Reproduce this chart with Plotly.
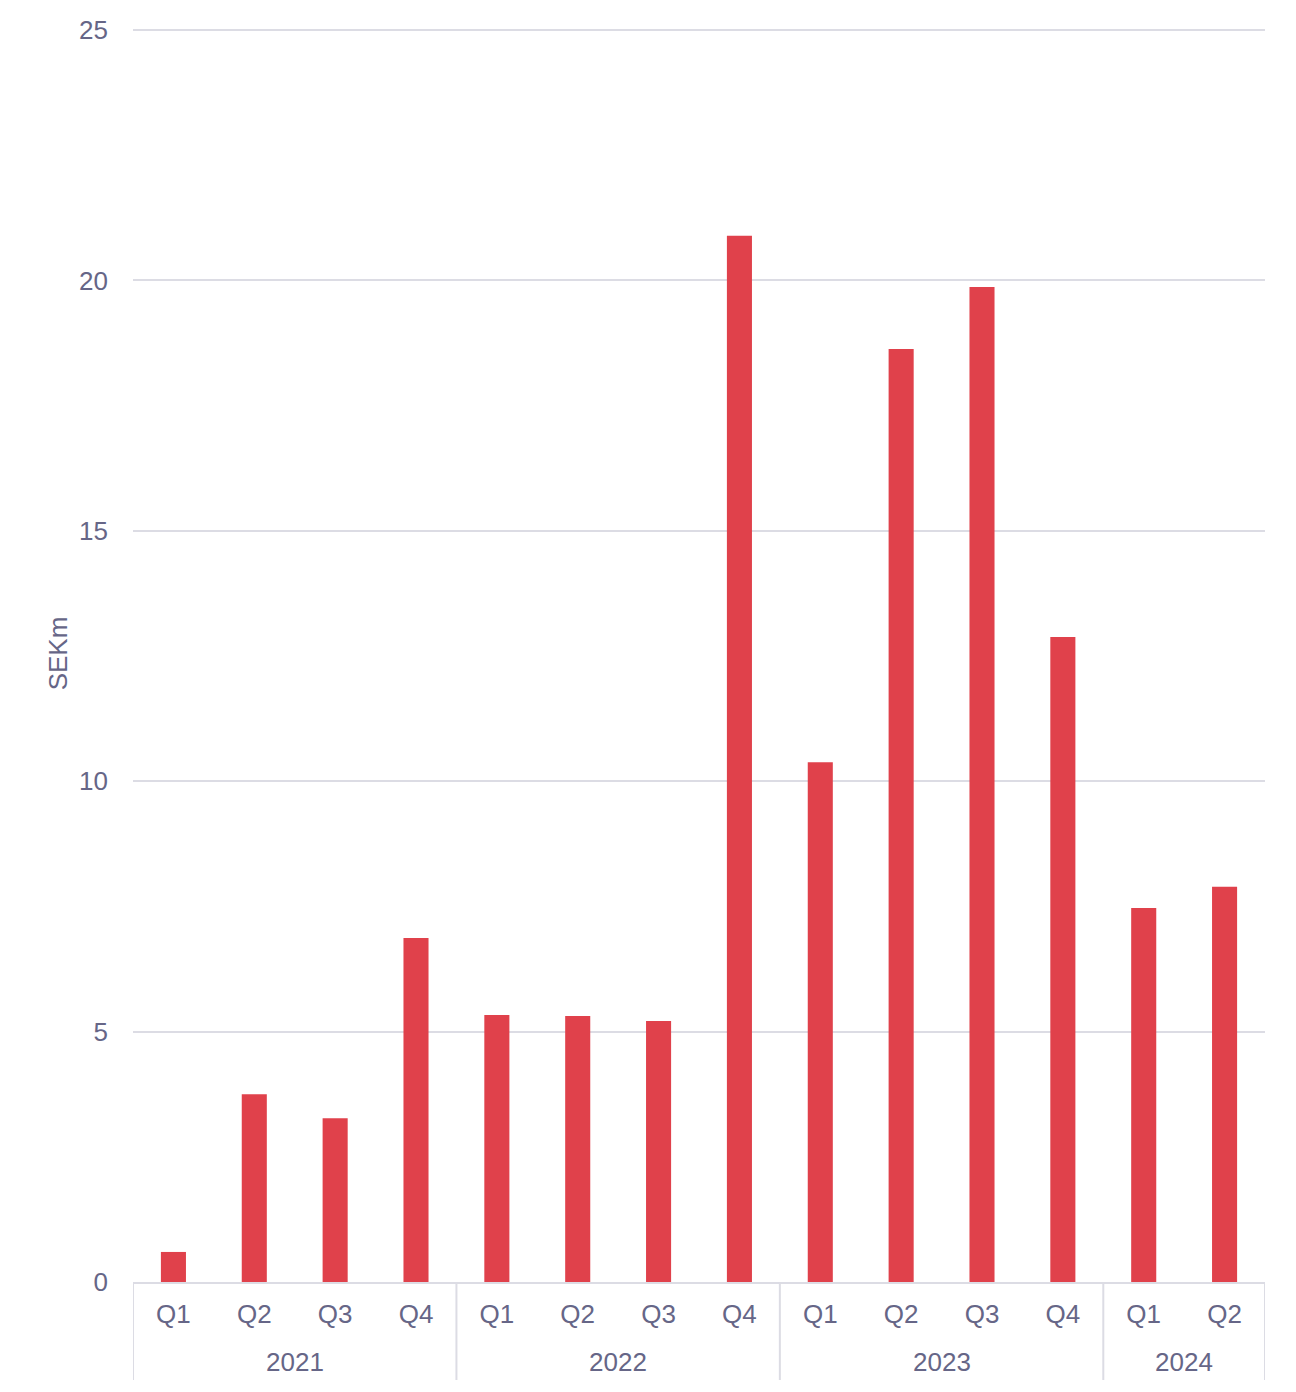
import plotly.graph_objects as go

years = ["2021"] * 4 + ["2022"] * 4 + ["2023"] * 4 + ["2024"] * 2
quarters = ["Q1", "Q2", "Q3", "Q4", "Q1", "Q2", "Q3", "Q4", "Q1", "Q2", "Q3", "Q4", "Q1", "Q2"]
values = [0.6, 3.75, 3.27, 6.87, 5.33, 5.31, 5.21, 20.89, 10.38, 18.63, 19.87, 12.88, 7.47, 7.89]
y_ticks = [0, 5, 10, 15, 20, 25]

TEXT = "#666687"
GRID = "#dcdce4"
BAR = "#e0414b"
FONT = "Liberation Sans, Arial, sans-serif"

W, H = 1296, 1392
M = dict(l=133, r=31, t=25, b=110)
plot_h = H - M["t"] - M["b"]

idx = list(range(len(values)))

fig = go.Figure(
    go.Bar(
        x=idx,
        y=values,
        marker=dict(color=BAR, line=dict(width=0)),
        customdata=[f"{q} {y}" for q, y in zip(quarters, years)],
        hovertemplate="%{customdata}: %{y}<extra></extra>",
    )
)

# group boundaries from the year labels
groups = []
start = 0
for i in range(1, len(years) + 1):
    if i == len(years) or years[i] != years[start]:
        groups.append((years[start], start, i - 1))
        start = i

div_depth = 98 / plot_h
shapes = []
annotations = []
bounds = sorted({g[1] - 0.5 for g in groups} | {g[2] + 0.5 for g in groups})
for b in bounds:
    shapes.append(dict(type="line", xref="x", yref="paper", x0=b, x1=b, y0=0, y1=-div_depth,
                       line=dict(color=GRID, width=2)))
for name, s, e in groups:
    annotations.append(dict(text=name, xref="x", yref="paper", x=(s + e) / 2, y=0,
                            yshift=-80, xanchor="center", yanchor="middle", showarrow=False,
                            font=dict(family=FONT, size=26, color=TEXT)))

fig.update_layout(
    width=W,
    height=H,
    margin=dict(**M, pad=0),
    paper_bgcolor="white",
    plot_bgcolor="white",
    bargap=0.69,
    showlegend=False,
    font=dict(family=FONT, size=26, color=TEXT),
    shapes=shapes,
    annotations=annotations,
)

fig.update_xaxes(
    type="linear",
    range=[-0.5, len(values) - 0.5],
    tickvals=idx,
    ticktext=quarters,
    showgrid=False,
    zeroline=False,
    showline=True,
    linecolor=GRID,
    linewidth=2,
    ticks="",
    ticklabelstandoff=8,
    tickfont=dict(family=FONT, size=26, color=TEXT),
)

fig.update_yaxes(
    range=[0, 25.1],
    tickvals=y_ticks,
    showgrid=True,
    gridcolor=GRID,
    gridwidth=2,
    zeroline=False,
    showline=False,
    ticks="",
    ticklabelstandoff=24,
    tickfont=dict(family=FONT, size=26, color=TEXT),
    title=dict(text="SEKm", font=dict(family=FONT, size=26, color=TEXT), standoff=3),
)

fig.write_html("out.html")
